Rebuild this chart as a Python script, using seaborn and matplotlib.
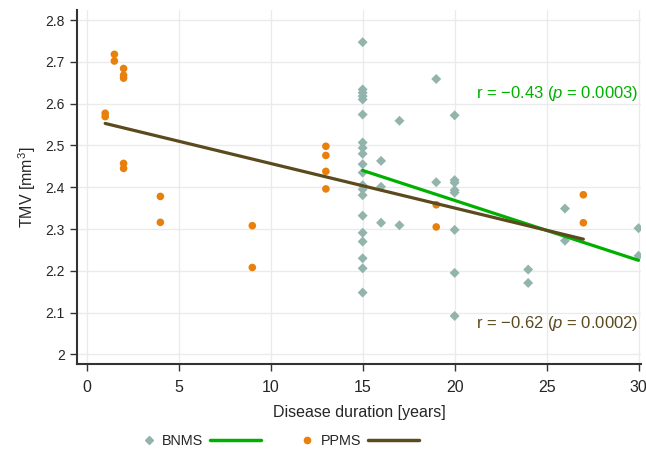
import matplotlib.pyplot as plt
import seaborn as sns
import pandas as pd
from matplotlib.lines import Line2D
from matplotlib.legend_handler import HandlerLine2D

# BNMS group: disease duration (years) and TMV (mm^3)
bnms_years = [15] * 20 + [16, 16, 16, 17, 17, 19, 19,
                          20, 20, 20, 20, 20, 20, 20, 20,
                          24, 24, 26, 26, 30, 30]
bnms_tmv = [2.747, 2.634, 2.626, 2.618, 2.610, 2.574, 2.507, 2.494, 2.480, 2.455,
            2.435, 2.405, 2.395, 2.381, 2.332, 2.291, 2.270, 2.230, 2.206, 2.148,
            2.463, 2.401, 2.315, 2.559, 2.309, 2.659, 2.412,
            2.572, 2.417, 2.411, 2.393, 2.387, 2.298, 2.195, 2.092,
            2.203, 2.171, 2.349, 2.272, 2.302, 2.236]

# PPMS group
ppms_years = [1, 1, 1.5, 1.5, 2, 2, 2, 2, 2, 4, 4, 9, 9,
              13, 13, 13, 13, 19, 19, 27, 27]
ppms_tmv = [2.577, 2.569, 2.718, 2.702, 2.684, 2.668, 2.661, 2.457, 2.445,
            2.378, 2.316, 2.308, 2.208,
            2.498, 2.476, 2.438, 2.396, 2.358, 2.305, 2.382, 2.315]

x_ticks = [0, 5, 10, 15, 20, 25, 30]
y_ticks = [2.0, 2.1, 2.2, 2.3, 2.4, 2.5, 2.6, 2.7, 2.8]
y_labels = ["2", "2.1", "2.2", "2.3", "2.4", "2.5", "2.6", "2.7", "2.8"]

bnms_note = "r = \u22120.43 ($\\it{p}$ = 0.0003)"
ppms_note = "r = \u22120.62 ($\\it{p}$ = 0.0002)"

c_bnms = "#93b4ac"
c_ppms = "#e8800c"
c_green = "#00b000"
c_brown = "#5b4a1d"

bnms = pd.DataFrame({"years": bnms_years, "tmv": bnms_tmv})
ppms = pd.DataFrame({"years": ppms_years, "tmv": ppms_tmv})

sns.set_theme(style="whitegrid")
plt.rcParams["font.family"] = ["Liberation Sans", "DejaVu Sans"]
plt.rcParams["mathtext.fontset"] = "custom"
plt.rcParams["mathtext.rm"] = "Liberation Sans"
plt.rcParams["mathtext.it"] = "Liberation Sans:italic"

fig = plt.figure(figsize=(6.46, 4.55), dpi=100)
ax = fig.add_axes([0.1187, 0.199, 0.874, 0.779])

sns.scatterplot(data=bnms, x="years", y="tmv", marker="D", s=26, color=c_bnms,
                edgecolor="none", ax=ax, zorder=3)
sns.scatterplot(data=ppms, x="years", y="tmv", marker="o", s=30, color=c_ppms,
                edgecolor="none", ax=ax, zorder=3)
sns.regplot(data=bnms, x="years", y="tmv", scatter=False, ci=None, ax=ax,
            line_kws={"color": c_green, "lw": 2.3, "zorder": 4})
sns.regplot(data=ppms, x="years", y="tmv", scatter=False, ci=None, ax=ax,
            line_kws={"color": c_brown, "lw": 2.3, "zorder": 4})

ax.set_xlim(-0.55, 30.15)
ax.set_ylim(1.976, 2.824)
ax.set_xticks(x_ticks)
ax.set_yticks(y_ticks)
ax.set_yticklabels(y_labels)
ax.tick_params(axis="both", which="major", length=5, width=1,
               color="#333333", direction="out", pad=3.5, left=True, bottom=True)
ax.tick_params(axis="x", labelsize=11.5, pad=6)
ax.tick_params(axis="y", labelsize=10)
ax.grid(True, color="#ebebeb", lw=1)
ax.set_facecolor("white")
for side in ["top", "right"]:
    ax.spines[side].set_visible(False)
for side in ["left", "bottom"]:
    ax.spines[side].set_color("#333333")
    ax.spines[side].set_linewidth(1.5)

ax.set_xlabel("Disease duration [years]", fontsize=11.5, labelpad=7.5)
ax.set_ylabel("TMV [mm$^3$]", fontsize=11.5, labelpad=5)

ax.text(29.97, 2.625, bnms_note, color=c_green, fontsize=12, ha="right", va="center")
ax.text(29.97, 2.075, ppms_note, color=c_brown, fontsize=12, ha="right", va="center")

# legend: marker, label, then the fit line
leg_size = 10.4
fs = leg_size * 100 / 72
bnms_mark = Line2D([], [], marker="D", ls="none", color=c_bnms, markersize=4)
ppms_mark = Line2D([], [], marker="o", ls="none", color=c_ppms, markersize=4.5)
handles = [
    bnms_mark,
    Line2D([], [], color=c_green, lw=2.5),
    ppms_mark,
    Line2D([], [], color=c_brown, lw=2.5),
]
labels = ["BNMS", "", "PPMS", ""]
fig.legend(handles, labels, loc="center", bbox_to_anchor=(0.41, 0.031), ncol=4,
           frameon=False, fontsize=leg_size, handlelength=51 / fs,
           handletextpad=0.05, columnspacing=7 / fs, borderpad=0.2,
           handler_map={bnms_mark: HandlerLine2D(xpad=26 / fs),
                        ppms_mark: HandlerLine2D(xpad=26 / fs)})

plt.savefig("out.png", dpi=100)
plt.close()
